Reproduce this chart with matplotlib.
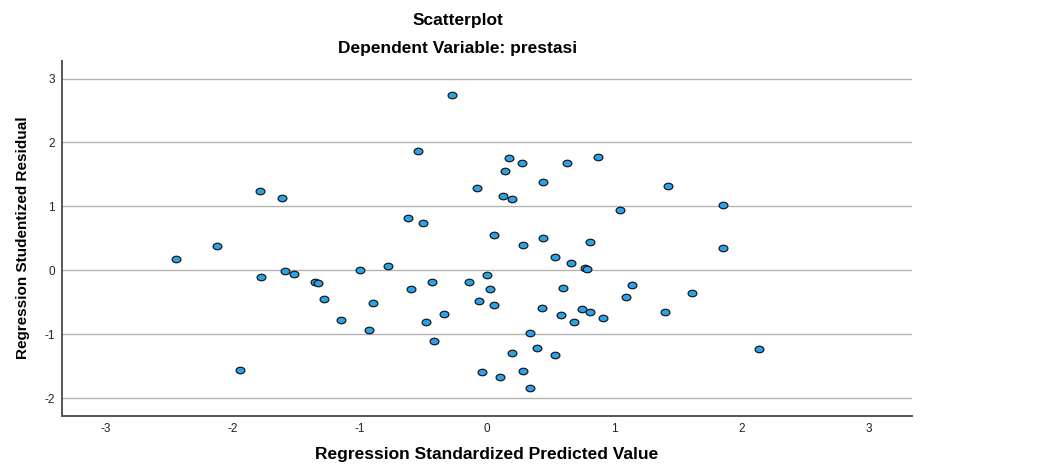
import numpy as np
import matplotlib
matplotlib.use("Agg")
import matplotlib.pyplot as plt
from matplotlib.path import Path

pred = [-2.442, -2.123, -1.939, -1.781, -1.779, -1.608, -1.585, -1.517, -1.355, -1.326,
        -1.284, -1.145, -0.998, -0.930, -0.896, -0.775, -0.623, -0.600, -0.540, -0.506,
        -0.476, -0.435, -0.417, -0.338, -0.277, -0.142, -0.079, -0.060, -0.042, 0.003,
        0.024, 0.053, 0.058, 0.100, 0.126, 0.145, 0.173, 0.200, 0.200, 0.278,
        0.283, 0.283, 0.338, 0.341, 0.393, 0.435, 0.438, 0.440, 0.535, 0.535,
        0.585, 0.595, 0.629, 0.663, 0.684, 0.747, 0.770, 0.785, 0.810, 0.810,
        0.876, 0.912, 1.046, 1.090, 1.143, 1.395, 1.426, 1.612, 1.853, 1.853, 2.134]
resid = [0.177, 0.385, -1.560, 1.245, -0.100, 1.127, -0.011, -0.063, -0.190, -0.200,
         -0.450, -0.770, 0.000, -0.935, -0.510, 0.060, 0.820, -0.293, 1.860, 0.745,
         -0.810, -0.190, -1.100, -0.690, 2.740, -0.178, 1.290, -0.476, -1.590, -0.069,
         -0.300, 0.557, -0.538, -1.670, 1.160, 1.560, 1.760, 1.120, -1.300, 1.680,
         0.390, -1.580, -1.840, -0.986, -1.210, -0.595, 0.505, 1.380, 0.213, -1.320,
         -0.705, -0.282, 1.680, 0.110, -0.804, -0.600, 0.040, 0.025, 0.448, -0.648,
         1.770, -0.752, 0.940, -0.418, -0.235, -0.657, 1.320, -0.360, 1.020, 0.354, -1.236]

x_ticks = [-3, -2, -1, 0, 1, 2, 3]
y_ticks = [-2, -1, 0, 1, 2, 3]

plt.rcParams['font.family'] = ['Liberation Sans', 'DejaVu Sans']

fig = plt.figure(figsize=(10.41, 4.70), dpi=100)
ax = fig.add_axes([62/1041, 1 - 415.7/470, (912-62)/1041, (415.7-61)/470])

circ = Path.unit_circle()
ell = Path(circ.vertices * np.array([1.0, 0.74]), circ.codes)

ax.scatter(pred, resid, marker=ell, s=40, facecolor='#2BA3EC', edgecolor='#1a1a1a',
           linewidths=0.9, zorder=3)

ax.set_xlim(-3.34, 3.34)
ax.set_ylim(-2.275, 3.275)
ax.set_xticks(x_ticks)
ax.set_yticks(y_ticks)
ax.set_xticklabels([str(v) for v in x_ticks])
ax.set_yticklabels([str(v) for v in y_ticks])
ax.tick_params(length=0, labelsize=8.5, colors='#222222', pad=5)
ax.grid(axis='y', color='#b4b4b4', linewidth=1.0, zorder=0)
for s in ['top', 'right']:
    ax.spines[s].set_visible(False)
for s in ['left', 'bottom']:
    ax.spines[s].set_color('#555555')
    ax.spines[s].set_linewidth(1.4)

fig.text(458/1041, 1 - 20/470, 'Scatterplot', ha='center', va='center',
         fontsize=12.5, fontweight='bold')
fig.text(458/1041, 1 - 49/470, 'Dependent Variable: prestasi', ha='center', va='center',
         fontsize=12.5, fontweight='bold')
fig.text(487/1041, 1 - 455/470, 'Regression Standardized Predicted Value', ha='center',
         va='center', fontsize=12.5, fontweight='bold')
fig.text(23/1041, 1 - 238/470, 'Regression Studentized Residual', ha='center',
         va='center', rotation=90, fontsize=11, fontweight='bold')

fig.savefig('out.png', dpi=100)
